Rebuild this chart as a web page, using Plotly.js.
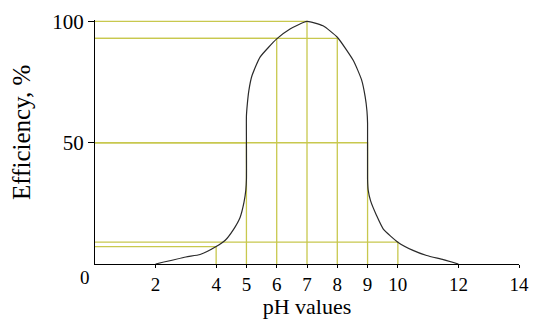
<!DOCTYPE html>
<html>
<head>
<meta charset="utf-8">
<script src="https://cdn.plot.ly/plotly-3.0.1.min.js"></script>
<style>html,body{margin:0;padding:0;background:#fff;}#chart{width:533px;height:319px;}</style>
</head>
<body>
<div id="chart"></div>
<script>
// Efficiency curve (pH vs %)
var curveX = [2, 3, 3.47, 4, 4.3, 4.57, 4.79, 4.92, 4.98, 5.0, 5.0, 5.0, 5.03, 5.08, 5.18, 5.45, 6.0, 6.44, 7.0, 7.53, 8.0, 8.53, 8.8, 8.92, 8.98, 9.0, 9.0, 9.02, 9.1, 9.3, 9.52, 10.0, 10.5, 10.95, 11.5, 12];
var curveY = [0, 2.9, 3.9, 7.2, 9.8, 14.2, 19.2, 25.5, 30.5, 35, 50, 61, 66, 71.5, 77.5, 85.3, 92.8, 96.9, 100, 98.2, 93.5, 83.9, 76, 69, 63, 58, 35, 30.5, 26, 19.9, 14.4, 9, 5.6, 3.5, 1.8, 0];
// Reference guide points (drawn as L-shaped guide lines to the axes)
var guideX = [4, 5, 6, 7, 8, 9, 10];
var guideY = [7.2, 50, 93, 100, 93, 50, 9];
// Axis ticks
var xTicks = [2, 4, 5, 6, 7, 8, 9, 10, 12, 14];
var xTickText = ["2", "4", "5", "6", "7", "8", "9", "10", "12", "14"];
var yTicks = [50, 100];
var yTickText = ["50", "100"];

var gx = [], gy = [];
for (var i = 0; i < guideX.length; i++) {
  gx.push(0, guideX[i], guideX[i], null);
  gy.push(guideY[i], guideY[i], 0, null);
}

var traces = [
  {x: gx, y: gy, mode: 'lines', line: {color: '#c8c84e', width: 1.3}, hoverinfo: 'skip', showlegend: false, connectgaps: false},
  {x: curveX, y: curveY, mode: 'lines', line: {color: '#2a2a2a', width: 1.2, shape: 'spline', smoothing: 0.5}, showlegend: false}
];

var font = 'Liberation Serif, Times New Roman, serif';
var layout = {
  width: 533, height: 319,
  margin: {l: 95, r: 14, t: 20, b: 55},
  paper_bgcolor: '#fff', plot_bgcolor: '#fff',
  font: {family: font, color: '#000', size: 19},
  xaxis: {
    range: [0, 14], showgrid: false, zeroline: false,
    showline: true, linecolor: '#000', linewidth: 1,
    ticks: 'outside', ticklen: 3, tickcolor: '#000',
    tickvals: xTicks, ticktext: xTickText,
    tickfont: {family: font, size: 19, color: '#000'},
    title: {text: 'pH values', font: {family: font, size: 22, color: '#000'}, standoff: 9}
  },
  yaxis: {
    range: [0, 100.6], showgrid: false, zeroline: false,
    showline: true, linecolor: '#000', linewidth: 1,
    ticks: 'outside', ticklen: 6, tickcolor: '#000',
    tickvals: yTicks, ticktext: yTickText,
    tickfont: {family: font, size: 21, color: '#000'}
  },
  annotations: [
    {xref: 'x', yref: 'y', x: 0, y: 0, text: '0', showarrow: false, xanchor: 'center', yanchor: 'top', xshift: -10, yshift: -1, font: {family: font, size: 19, color: '#000'}},
    {xref: 'paper', yref: 'paper', x: -0.175, y: 0.54, text: 'Efficiency, %', textangle: -90, showarrow: false, xanchor: 'center', yanchor: 'middle', font: {family: font, size: 25, color: '#000'}}
  ]
};

Plotly.newPlot('chart', traces, layout, {displayModeBar: false, staticPlot: true});
</script>
</body>
</html>
